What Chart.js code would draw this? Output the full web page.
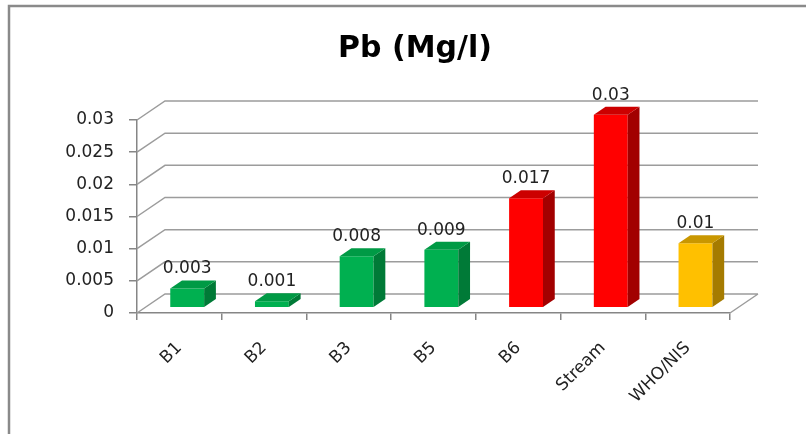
<!DOCTYPE html>
<html>
<head>
<meta charset="utf-8">
<script src="https://cdn.jsdelivr.net/npm/chart.js@4/dist/chart.umd.min.js"></script>
<style>
  html, body { margin: 0; padding: 0; background: #fff; }
  canvas { display: block; }
</style>
</head>
<body>
<canvas id="c" width="806" height="434"></canvas>
<script>
// Lead concentration per sampling point
const categories = ['B1', 'B2', 'B3', 'B5', 'B6', 'Stream', 'WHO/NIS'];
const pbValues = [0.003, 0.001, 0.008, 0.009, 0.017, 0.03, 0.01];
const yTicks = [0, 0.005, 0.01, 0.015, 0.02, 0.025, 0.03];

// Face colours per bar: front, top, side
const frontColors = ['#00B050', '#00B050', '#00B050', '#00B050', '#FF0000', '#FF0000', '#FFC000'];
const topColors   = ['#009A45', '#009A45', '#009A45', '#009A45', '#CC0000', '#CC0000', '#C99700'];
const sideColors  = ['#007A37', '#007A37', '#007A37', '#007A37', '#A20000', '#A20000', '#A57B00'];

const FONT = "'DejaVu Sans', sans-serif";
// Depth vector of the 3D box (front plane -> back wall)
const DEPTH = { x: 28, y: -19 };
const BAR_FRONT = 0.28;   // bar front face position in depth
const BAR_DEPTH = 0.42;   // bar thickness in depth

const frame = {
  id: 'frame',
  beforeDraw(chart) {
    const ctx = chart.ctx;
    ctx.save();
    ctx.fillStyle = '#fff';
    ctx.fillRect(0, 0, chart.width, chart.height);
    ctx.strokeStyle = '#8a8a8a';
    ctx.lineWidth = 2.5;
    ctx.beginPath();
    ctx.moveTo(9, chart.height);
    ctx.lineTo(9, 6);
    ctx.lineTo(chart.width, 6);
    ctx.stroke();
    // chart title
    ctx.fillStyle = '#000';
    ctx.font = "bold 30px " + FONT;
    ctx.textAlign = 'center';
    ctx.textBaseline = 'alphabetic';
    ctx.fillText('Pb (Mg/l)', 415, 57);
    ctx.restore();
  }
};

const walls = {
  id: 'walls',
  beforeDatasetsDraw(chart) {
    const ctx = chart.ctx;
    const ys = chart.scales.y;
    const { left, right, bottom } = chart.chartArea;
    ctx.save();
    ctx.strokeStyle = '#9c9c9c';
    ctx.lineWidth = 1.5;
    ctx.beginPath();
    ys.ticks.forEach(t => {
      const py = ys.getPixelForValue(t.value);
      ctx.moveTo(left, py);
      ctx.lineTo(left + DEPTH.x, py + DEPTH.y);
      ctx.lineTo(right + DEPTH.x, py + DEPTH.y);
    });
    // right edge of the floor
    ctx.moveTo(right, bottom);
    ctx.lineTo(right + DEPTH.x, bottom + DEPTH.y);
    ctx.stroke();
    ctx.restore();
  }
};

const bars3d = {
  id: 'bars3d',
  beforeDatasetDraw(chart) {
    chart.ctx.save();
    chart.ctx.translate(DEPTH.x * BAR_FRONT, DEPTH.y * BAR_FRONT);
  },
  afterDatasetDraw(chart, args) {
    const ctx = chart.ctx;
    const dx = DEPTH.x * BAR_DEPTH, dy = DEPTH.y * BAR_DEPTH;
    args.meta.data.forEach((bar, i) => {
      const p = bar.getProps(['x', 'y', 'base', 'width'], true);
      const l = p.x - p.width / 2, r = p.x + p.width / 2;
      // side face
      ctx.fillStyle = sideColors[i];
      ctx.beginPath();
      ctx.moveTo(r, p.base);
      ctx.lineTo(r, p.y);
      ctx.lineTo(r + dx, p.y + dy);
      ctx.lineTo(r + dx, p.base + dy);
      ctx.closePath();
      ctx.fill();
      // top face
      ctx.fillStyle = topColors[i];
      ctx.beginPath();
      ctx.moveTo(l, p.y);
      ctx.lineTo(r, p.y);
      ctx.lineTo(r + dx, p.y + dy);
      ctx.lineTo(l + dx, p.y + dy);
      ctx.closePath();
      ctx.fill();
      // value label
      ctx.fillStyle = '#222';
      ctx.font = "17px " + FONT;
      ctx.textAlign = 'center';
      ctx.textBaseline = 'alphabetic';
      ctx.fillText(String(pbValues[i]), p.x, p.y + dy - 7);
    });
    ctx.restore();
  }
};

new Chart(document.getElementById('c'), {
  type: 'bar',
  data: {
    labels: categories,
    datasets: [{
      data: pbValues,
      backgroundColor: frontColors,
      borderWidth: 0,
      categoryPercentage: 1,
      barPercentage: 0.4,
      clip: false
    }]
  },
  options: {
    responsive: false,
    animation: false,
    devicePixelRatio: 1,
    layout: { padding: { top: 120, right: 76, left: 0, bottom: 0 } },
    plugins: {
      legend: { display: false },
      title: { display: false },
      tooltip: { enabled: false }
    },
    scales: {
      x: {
        offset: true,
        grid: { offset: true, drawOnChartArea: false, drawTicks: true, tickLength: 7, color: '#868686', lineWidth: 1.5 },
        border: { display: true, color: '#868686', width: 1.5 },
        ticks: {
          color: '#222',
          font: { family: FONT, size: 17 },
          minRotation: 45,
          maxRotation: 45,
          padding: 18,
          autoSkip: false
        },
        afterFit(s) { s.height = 434 - 313; }
      },
      y: {
        min: 0,
        max: 0.03,
        afterBuildTicks(s) { s.ticks = yTicks.map(v => ({ value: v })); },
        grid: { drawOnChartArea: false, drawTicks: true, tickLength: 8, color: '#868686', lineWidth: 1.5 },
        border: { display: true, color: '#868686', width: 1.5 },
        ticks: {
          color: '#222',
          font: { family: FONT, size: 17 },
          padding: 15,
          callback: v => String(v)
        },
        afterFit(s) { s.width = 137; }
      }
    }
  },
  plugins: [frame, walls, bars3d]
});
</script>
</body>
</html>
